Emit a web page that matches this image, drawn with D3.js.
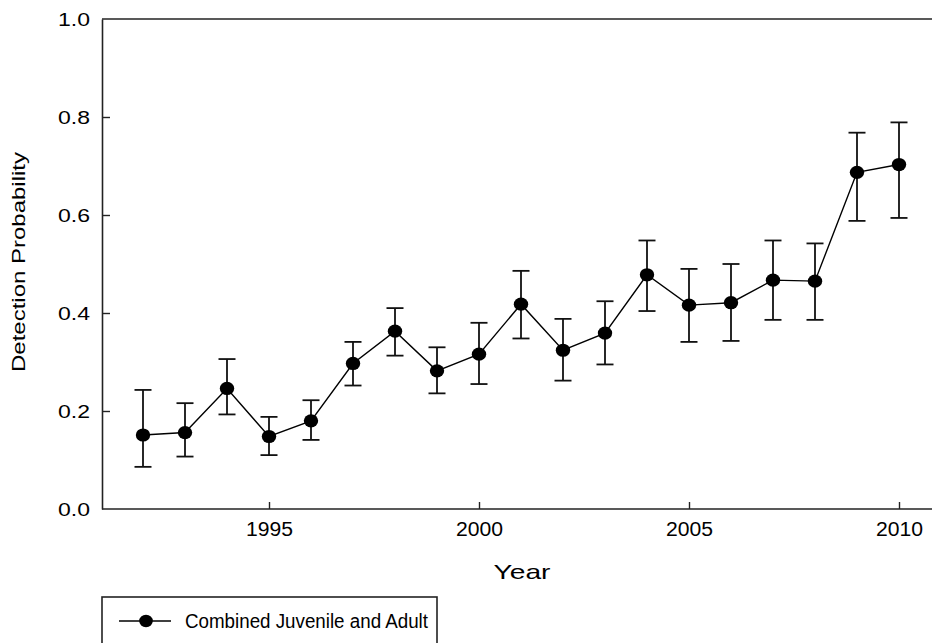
<!DOCTYPE html>
<html>
<head>
<meta charset="utf-8">
<script src="https://cdn.jsdelivr.net/npm/d3@7"></script>
<style>
  html, body { margin: 0; padding: 0; background: #fff; }
  svg { display: block; font-family: "Liberation Sans", Arial, sans-serif; }
</style>
</head>
<body>
<svg id="chart" width="932" height="643"></svg>
<script>
// Detection probability per year, with upper and lower confidence limits
const years = [1992, 1993, 1994, 1995, 1996, 1997, 1998, 1999, 2000, 2001,
               2002, 2003, 2004, 2005, 2006, 2007, 2008, 2009, 2010];
const estimate = [0.151, 0.156, 0.246, 0.148, 0.180, 0.297, 0.363, 0.282, 0.316, 0.418,
                  0.324, 0.359, 0.478, 0.416, 0.421, 0.467, 0.465, 0.687, 0.703];
const upper = [0.243, 0.216, 0.306, 0.188, 0.222, 0.341, 0.410, 0.330, 0.380, 0.486,
               0.388, 0.424, 0.548, 0.490, 0.500, 0.548, 0.542, 0.768, 0.789];
const lower = [0.086, 0.107, 0.193, 0.110, 0.141, 0.252, 0.313, 0.236, 0.255, 0.348,
               0.262, 0.295, 0.404, 0.341, 0.343, 0.386, 0.386, 0.588, 0.594];
const xTicks = [1995, 2000, 2005, 2010];
const yTicks = [0.0, 0.2, 0.4, 0.6, 0.8, 1.0];
const seriesName = "Combined Juvenile and Adult";

(function draw() {
  const rows = years.map((yr, i) => ({ year: yr, est: estimate[i], hi: upper[i], lo: lower[i] }));

  const svg = d3.select("#chart");
  const plotLeft = 102, plotTop = 19, plotBottom = 509, plotRight = 942;

  const x = d3.scaleLinear().domain([1991, 2011]).range([plotLeft - 1, plotRight - 1]);
  const y = d3.scaleLinear().domain([0, 1]).range([plotBottom, plotTop]);

  const axisColor = "#222";
  const font = "Liberation Sans, Arial, sans-serif";

  // Top frame line
  svg.append("line").attr("x1", plotLeft).attr("x2", plotRight)
    .attr("y1", plotTop).attr("y2", plotTop)
    .attr("stroke", axisColor).attr("stroke-width", 1.6);

  // Y axis with inward ticks
  const yAxis = svg.append("g").attr("transform", `translate(${plotLeft},0)`)
    .call(d3.axisLeft(y).tickValues(yTicks).tickFormat(d3.format(".1f"))
          .tickSizeInner(-8).tickSizeOuter(0).tickPadding(12));
  yAxis.select(".domain").attr("stroke", axisColor).attr("stroke-width", 1.6);
  yAxis.selectAll(".tick line").attr("stroke", axisColor).attr("stroke-width", 1.4)
    .filter(d => d === 0 || d === 1).remove();
  yAxis.selectAll(".tick text").attr("font-size", 19).attr("fill", "#000")
    .attr("font-family", font).attr("dy", "0.36em")
    .attr("textLength", 32).attr("lengthAdjust", "spacingAndGlyphs");

  // X axis with inward ticks
  const xAxis = svg.append("g").attr("transform", `translate(0,${plotBottom})`)
    .call(d3.axisBottom(x).tickValues(xTicks).tickFormat(d3.format("d"))
          .tickSizeInner(-7).tickSizeOuter(0).tickPadding(13));
  xAxis.select(".domain").attr("d", `M${plotLeft},0H${plotRight}`)
    .attr("stroke", axisColor).attr("stroke-width", 1.6);
  xAxis.selectAll(".tick line").attr("stroke", axisColor).attr("stroke-width", 1.4);
  xAxis.selectAll(".tick text").attr("font-size", 20).attr("fill", "#000")
    .attr("font-family", font)
    .attr("textLength", 47).attr("lengthAdjust", "spacingAndGlyphs");

  // Axis titles
  svg.append("text").attr("x", 522).attr("y", 579).attr("text-anchor", "middle")
    .attr("font-size", 21).attr("textLength", 57).attr("lengthAdjust", "spacingAndGlyphs")
    .text("Year");
  svg.append("text")
    .attr("transform", `translate(25,262) rotate(-90)`)
    .attr("text-anchor", "middle").attr("font-size", 18)
    .attr("textLength", 220).attr("lengthAdjust", "spacingAndGlyphs")
    .text("Detection Probability");

  // Connecting line
  svg.append("path").datum(rows)
    .attr("fill", "none").attr("stroke", "#000").attr("stroke-width", 1.4)
    .attr("d", d3.line().x(d => x(d.year)).y(d => y(d.est)));

  // Error bars with caps
  const cap = 8.5;
  const eb = svg.append("g").attr("stroke", "#111").attr("stroke-width", 1.8);
  eb.selectAll(".stem").data(rows).join("line").attr("class", "stem")
    .attr("x1", d => x(d.year)).attr("x2", d => x(d.year))
    .attr("y1", d => y(d.lo)).attr("y2", d => y(d.hi));
  eb.selectAll(".capHi").data(rows).join("line").attr("class", "capHi")
    .attr("x1", d => x(d.year) - cap).attr("x2", d => x(d.year) + cap)
    .attr("y1", d => y(d.hi)).attr("y2", d => y(d.hi));
  eb.selectAll(".capLo").data(rows).join("line").attr("class", "capLo")
    .attr("x1", d => x(d.year) - cap).attr("x2", d => x(d.year) + cap)
    .attr("y1", d => y(d.lo)).attr("y2", d => y(d.lo));

  // Markers
  svg.append("g").selectAll("ellipse").data(rows).join("ellipse")
    .attr("cx", d => x(d.year)).attr("cy", d => y(d.est))
    .attr("rx", 7.2).attr("ry", 6.6).attr("fill", "#000");

  // Legend box
  const lg = svg.append("g");
  lg.append("rect").attr("x", 102).attr("y", 597).attr("width", 335).attr("height", 60)
    .attr("fill", "#fff").attr("stroke", axisColor).attr("stroke-width", 1.6);
  lg.append("line").attr("x1", 119).attr("x2", 171).attr("y1", 621).attr("y2", 621)
    .attr("stroke", "#000").attr("stroke-width", 1.4);
  lg.append("ellipse").attr("cx", 146).attr("cy", 621).attr("rx", 6.8).attr("ry", 6.2)
    .attr("fill", "#000");
  lg.append("text").attr("x", 185).attr("y", 628).attr("font-size", 20)
    .attr("textLength", 243).attr("lengthAdjust", "spacingAndGlyphs")
    .text(seriesName);
})();
</script>
</body>
</html>
